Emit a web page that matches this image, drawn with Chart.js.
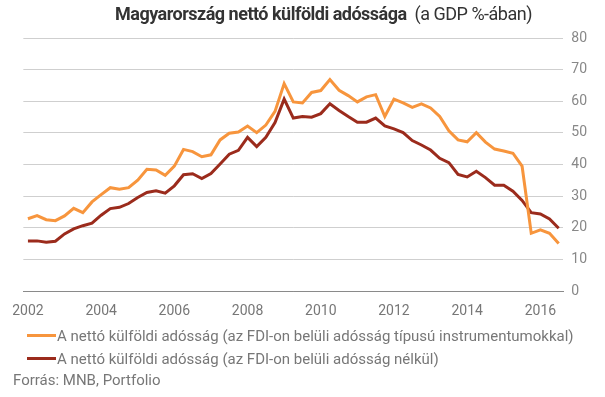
<!DOCTYPE html>
<html>
<head>
<meta charset="utf-8">
<script src="https://cdn.jsdelivr.net/npm/chart.js@4/dist/chart.umd.min.js"></script>
<style>
  html, body { margin: 0; padding: 0; background: #fff; }
  #wrap { position: relative; width: 605px; height: 397px; font-family: Roboto, "Noto Sans", sans-serif; }
  #chart { position: absolute; left: 0; top: 0; }
  #title { position: absolute; left: 115px; top: 3px; white-space: nowrap; font-size: 18px; color: #333; letter-spacing: -0.5px; }
  #title b { font-weight: 700; }
  #legend { position: absolute; left: 27px; top: 324px; font-size: 15px; color: #777; }
  .item { display: flex; align-items: center; height: 23px; }
  .swatch { width: 29px; height: 3px; margin-right: 1px; }
  #source { position: absolute; left: 13px; top: 371px; font-size: 15px; color: #777; }
</style>
</head>
<body>
<div id="wrap">
  <canvas id="chart" width="605" height="397"></canvas>
  <div id="title"><b>Magyarország nettó külföldi adóssága</b>&nbsp; (a GDP %-ában)</div>
  <div id="legend"></div>
  <div id="source">Forrás: MNB, Portfolio</div>
</div>
<script>
// negyedéves adatok, 2002 I. – 2016 III.
const years = ['2002', '2003', '2004', '2005', '2006', '2007', '2008', '2009',
               '2010', '2011', '2012', '2013', '2014', '2015', '2016'];
const quarterNames = ['Q1', 'Q2', 'Q3', 'Q4'];

// A nettó külföldi adósság (az FDI-on belüli adósság típusú instrumentumokkal)
const withFdiDebt = [
  22.9, 23.9, 22.6, 22.3, 23.8, 26.2, 24.8, 28.2, 30.5, 32.7,
  32.2, 32.7, 35.1, 38.5, 38.3, 36.6, 39.5, 44.8, 44.1, 42.5,
  43.1, 47.8, 49.9, 50.3, 52.2, 50.1, 52.5, 56.8, 65.6, 59.8,
  59.5, 62.8, 63.4, 66.9, 63.5, 61.8, 59.8, 61.4, 62.1, 55.2,
  60.7, 59.5, 58.1, 59.2, 57.9, 55.2, 50.7, 47.8, 47.2, 50.1,
  47.1, 44.9, 44.3, 43.6, 39.5, 18.3, 19.4, 18.3, 15.1
];

// A nettó külföldi adósság (az FDI-on belüli adósság nélkül)
const withoutFdiDebt = [
  15.9, 15.9, 15.5, 15.8, 18.1, 19.7, 20.7, 21.5, 24.0, 26.1,
  26.5, 27.7, 29.6, 31.2, 31.7, 31.0, 33.3, 36.8, 37.1, 35.6,
  37.2, 40.2, 43.3, 44.5, 48.6, 45.7, 48.6, 53.3, 60.7, 54.7,
  55.2, 55.0, 56.1, 59.2, 57.1, 55.2, 53.4, 53.4, 54.7, 52.2,
  51.3, 50.1, 47.6, 46.2, 44.6, 42.0, 40.6, 36.9, 36.1, 37.9,
  35.9, 33.5, 33.5, 31.6, 28.7, 24.8, 24.4, 22.8, 19.9
];

const seriesNames = [
  'A nettó külföldi adósság (az FDI-on belüli adósság típusú instrumentumokkal)',
  'A nettó külföldi adósság (az FDI-on belüli adósság nélkül)'
];
const seriesColors = ['#F7953D', '#9B2B1C'];

// címkék: minden negyedév, csak az év első negyedévénél írjuk ki az évet
const labels = [];
years.forEach(y => quarterNames.forEach(q => labels.push(y + ' ' + q)));
labels.length = withFdiDebt.length;

const ctx = document.getElementById('chart').getContext('2d');
const chart = new Chart(ctx, {
  type: 'line',
  data: {
    labels: labels,
    datasets: [{
      label: seriesNames[0],
      data: withFdiDebt,
      borderColor: seriesColors[0],
      backgroundColor: seriesColors[0],
      borderWidth: 3,
      pointRadius: 0,
      tension: 0
    }, {
      label: seriesNames[1],
      data: withoutFdiDebt,
      borderColor: seriesColors[1],
      backgroundColor: seriesColors[1],
      borderWidth: 3,
      pointRadius: 0,
      tension: 0
    }]
  },
  options: {
    responsive: false,
    animation: false,
    layout: {
      padding: { left: 23, right: 10, top: 38, bottom: 65 }
    },
    plugins: {
      legend: { display: false },
      title: { display: false },
      tooltip: { enabled: false }
    },
    scales: {
      x: {
        offset: true,
        grid: { display: false, drawTicks: false },
        border: { display: true, color: '#8a8a8a', width: 1 },
        ticks: {
          autoSkip: false,
          maxRotation: 0,
          padding: 12,
          color: '#777',
          font: { family: 'Roboto', size: 14 },
          callback: function(value, index) {
            return index % 8 === 0 ? this.getLabelForValue(value).slice(0, 4) : null;
          }
        }
      },
      y: {
        position: 'right',
        min: 0,
        max: 80,
        grid: {
          color: (c) => c.tick.value === 0 ? '#8a8a8a' : '#cfcfcf',
          drawTicks: false
        },
        border: { display: false },
        ticks: {
          stepSize: 10,
          padding: 8,
          color: '#888',
          font: { family: 'Roboto', size: 14 }
        }
      }
    }
  }
});

// jelmagyarázat a diagram adatkészleteiből
const legendEl = document.getElementById('legend');
chart.data.datasets.forEach(ds => {
  const row = document.createElement('div');
  row.className = 'item';
  const sw = document.createElement('span');
  sw.className = 'swatch';
  sw.style.background = ds.borderColor;
  const txt = document.createElement('span');
  txt.textContent = ds.label;
  row.appendChild(sw);
  row.appendChild(txt);
  legendEl.appendChild(row);
});
</script>
</body>
</html>
